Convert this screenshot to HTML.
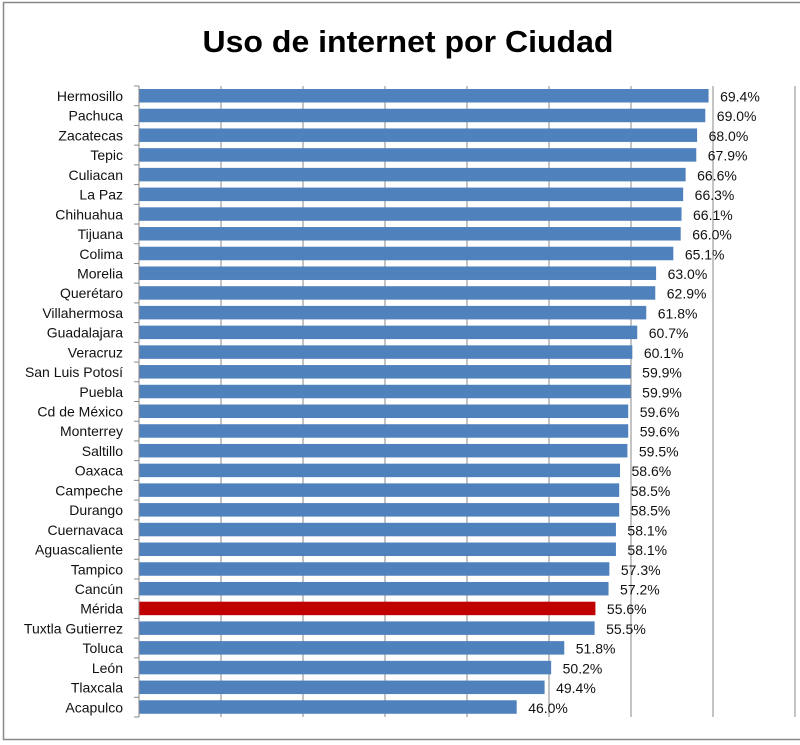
<!DOCTYPE html>
<html><head><meta charset="utf-8"><style>body{margin:0;background:#fff}svg{display:block}</style></head>
<body>
<svg width="800" height="745" xmlns="http://www.w3.org/2000/svg" font-family="'Liberation Sans', sans-serif">
<rect x="3.5" y="2.5" width="800" height="737" fill="#fff" stroke="#888" stroke-width="1.5"/>
<text x="408" y="52" font-size="31" font-weight="bold" text-anchor="middle" textLength="411" lengthAdjust="spacingAndGlyphs">Uso de internet por Ciudad</text>
<g id="c"></g>
</svg>
<script>
(function(){
var d=[["Hermosillo",69.4],["Pachuca",69.0],["Zacatecas",68.0],["Tepic",67.9],["Culiacan",66.6],["La Paz",66.3],["Chihuahua",66.1],["Tijuana",66.0],["Colima",65.1],["Morelia",63.0],["Querétaro",62.9],["Villahermosa",61.8],["Guadalajara",60.7],["Veracruz",60.1],["San Luis Potosí",59.9],["Puebla",59.9],["Cd de México",59.6],["Monterrey",59.6],["Saltillo",59.5],["Oaxaca",58.6],["Campeche",58.5],["Durango",58.5],["Cuernavaca",58.1],["Aguascaliente",58.1],["Tampico",57.3],["Cancún",57.2],["Mérida",55.6],["Tuxtla Gutierrez",55.5],["Toluca",51.8],["León",50.2],["Tlaxcala",49.4],["Acapulco",46.0]];
var x0=139,s=8.2,t0=86,p=631/32,h='';
for(var i=1;i<=8;i++){var x=x0+82*i;h+='<line x1="'+x+'" y1="'+t0+'" x2="'+x+'" y2="717" stroke="#888" stroke-width="1"/>';}
h+='<line x1="'+x0+'" y1="'+t0+'" x2="'+x0+'" y2="717" stroke="#888"/>';
for(var i=0;i<=32;i++){var y=t0+p*i;h+='<line x1="134" y1="'+y+'" x2="'+x0+'" y2="'+y+'" stroke="#888"/>';}
d.forEach(function(r,i){var y=t0+p*i;var w=r[1]*s;
h+='<rect x="'+(x0+0.5)+'" y="'+(y+3)+'" width="'+w+'" height="13.5" fill="'+(r[0]=='Mérida'?'#c00000':'#4f81bd')+'"/>';
h+='<text x="123" y="'+(y+15)+'" font-size="14" text-anchor="end" fill="#111">'+r[0]+'</text>';
h+='<text x="'+(x0+w+12)+'" y="'+(y+15.5)+'" font-size="14" fill="#111">'+r[1].toFixed(1)+'%</text>';});
document.getElementById('c').innerHTML=h;
})();
</script>
</body></html>
